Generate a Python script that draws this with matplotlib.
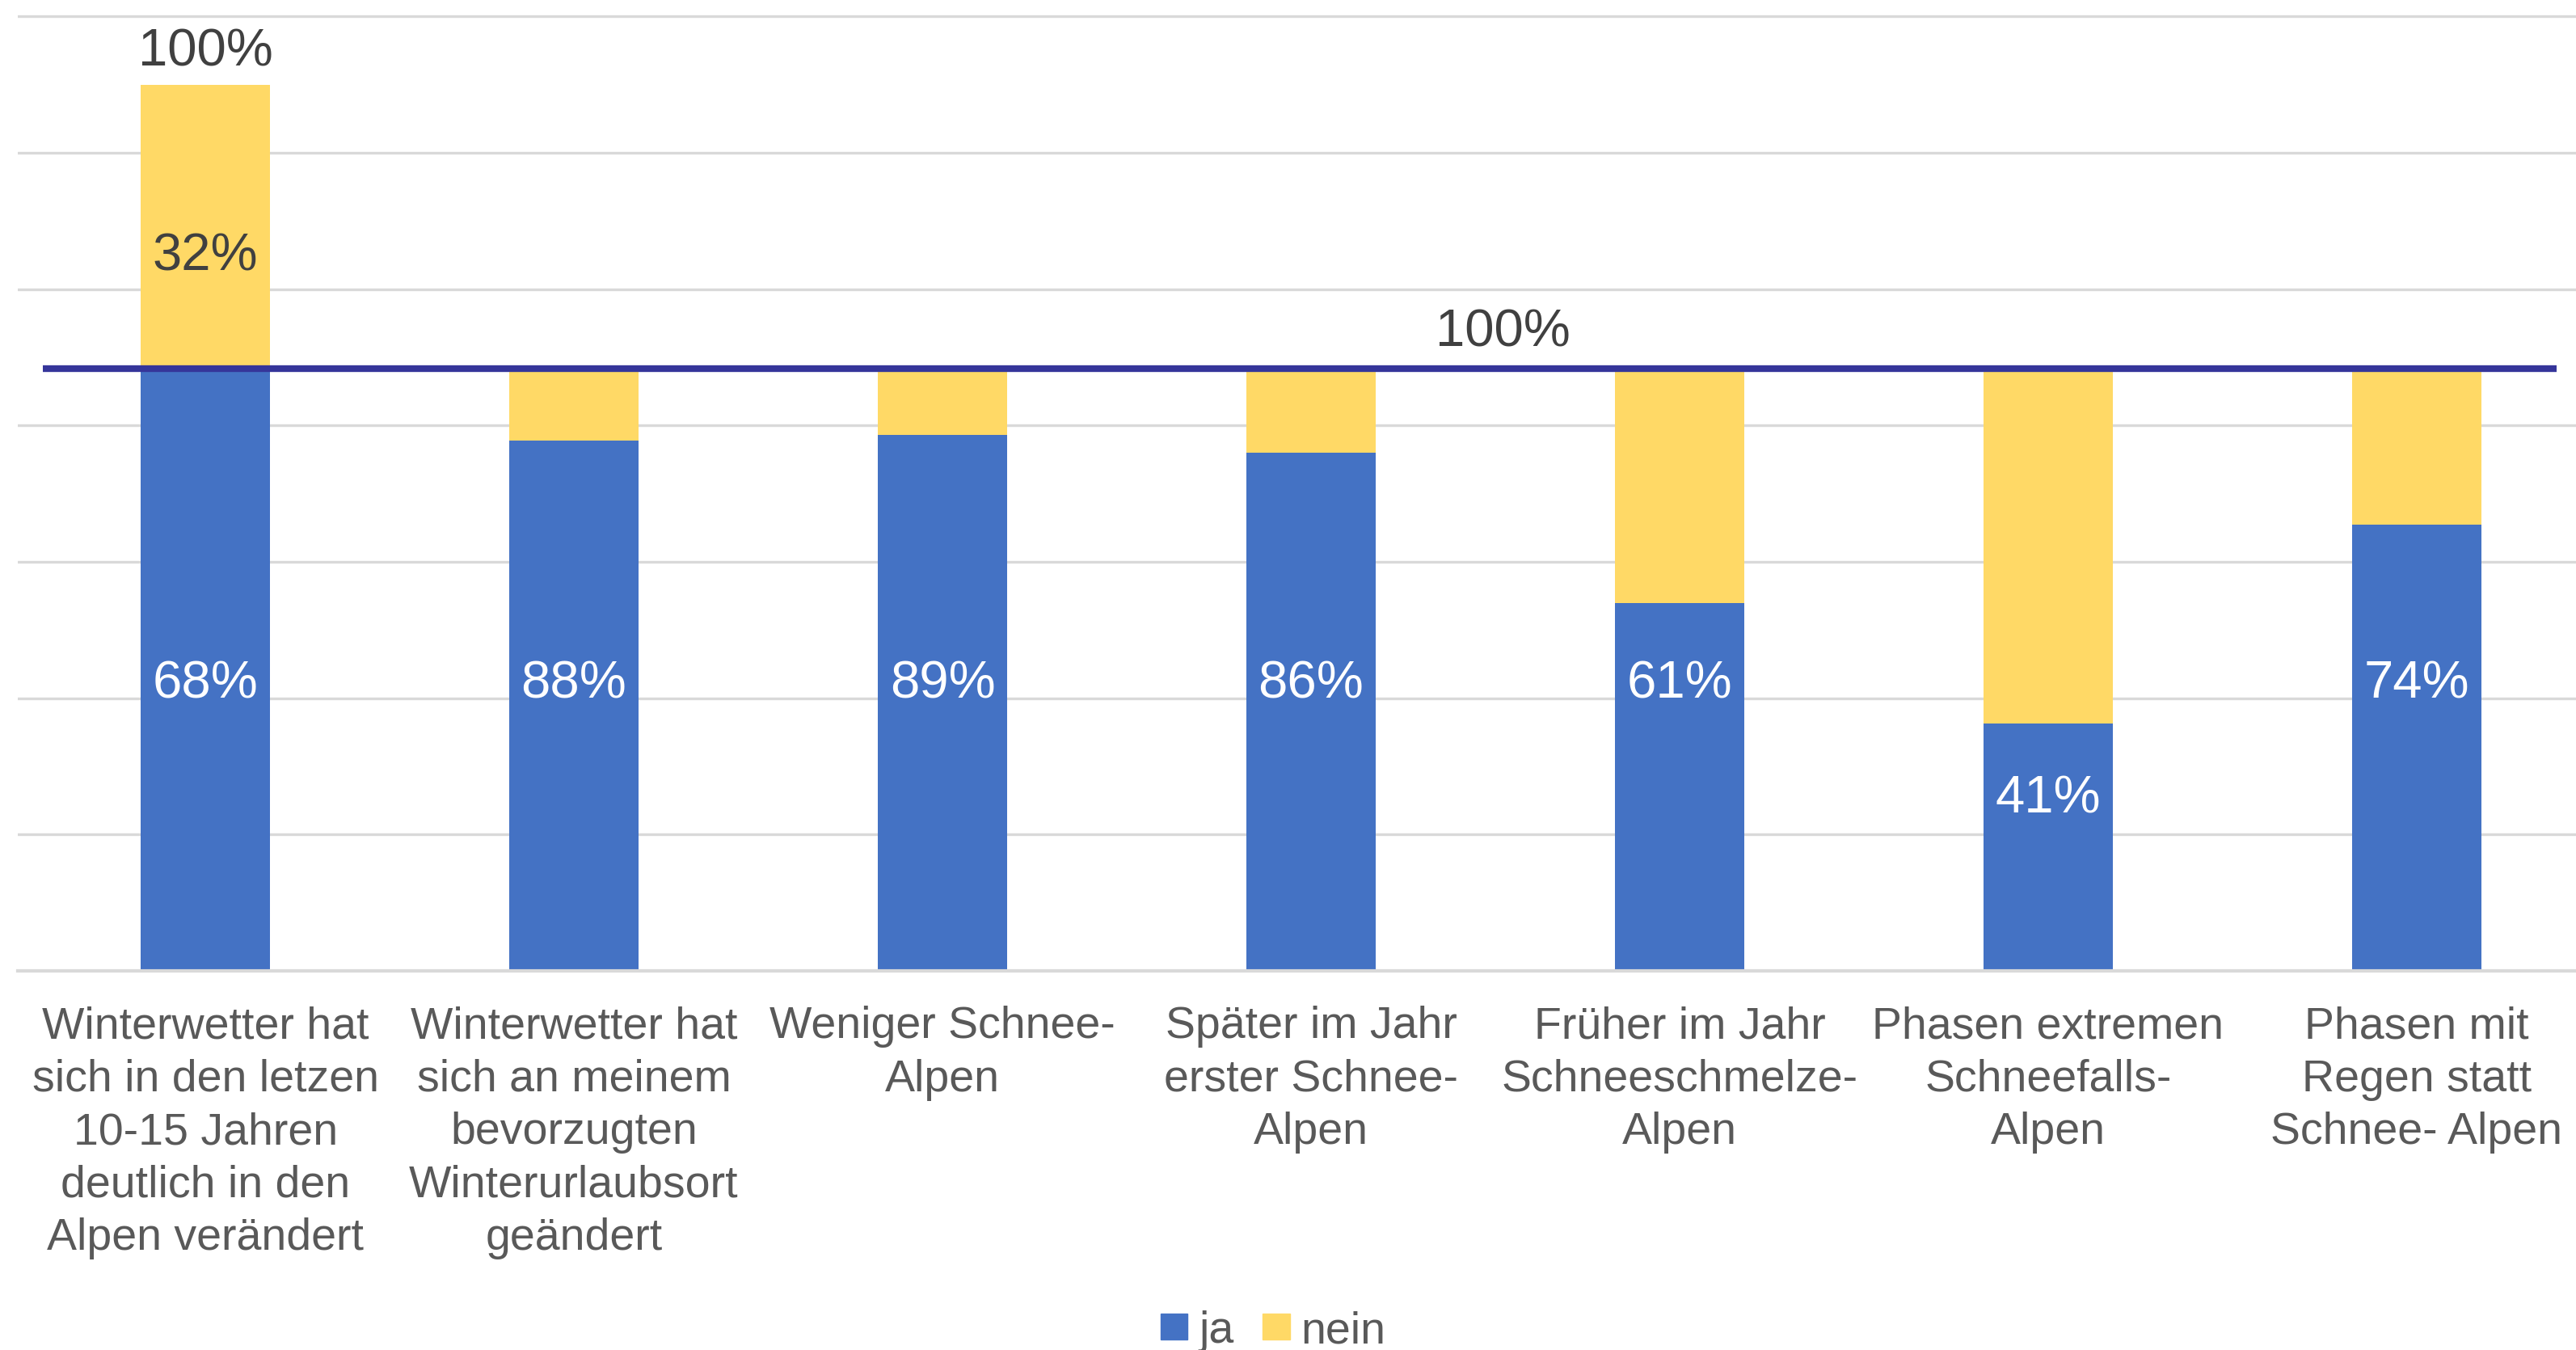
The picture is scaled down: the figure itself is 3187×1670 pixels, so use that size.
import numpy as np
import matplotlib.pyplot as plt
from matplotlib.patches import Patch

plt.rcParams['font.family'] = ['Liberation Sans', 'DejaVu Sans']

categories = [
    "Winterwetter hat\nsich in den letzen\n10-15 Jahren\ndeutlich in den\nAlpen verändert",
    "Winterwetter hat\nsich an meinem\nbevorzugten\nWinterurlaubsort\ngeändert",
    "Weniger Schnee-\nAlpen",
    "Später im Jahr\nerster Schnee-\nAlpen",
    "Früher im Jahr\nSchneeschmelze-\nAlpen",
    "Phasen extremen\nSchneefalls-\nAlpen",
    "Phasen mit\nRegen statt\nSchnee- Alpen",
]
ja_pct = [68, 88, 89, 86, 61, 41, 74]
nein_pct = [32, 12, 11, 14, 39, 59, 26]
n_total = 325  # respondents

# first bar = all respondents, the others only those who said "ja" in the first
base = np.array([n_total] + [n_total * ja_pct[0] / 100] * (len(ja_pct) - 1))
ja = base * np.array(ja_pct) / 100
nein = base * np.array(nein_pct) / 100

BLUE = '#4472C4'
YELLOW = '#FFD966'
NAVY = '#35359A'
GRID = '#D9D9D9'
DARK = '#404040'

fig = plt.figure(figsize=(31.87, 16.70), dpi=100)
ax = fig.add_axes([22 / 3187, 469 / 1670, 3200 / 3187, 1197.5 / 1670])

x = np.arange(len(categories))
ax.bar(x, ja, width=0.35, color=BLUE, zorder=2)
ax.bar(x, nein, bottom=ja, width=0.35, color=YELLOW, zorder=2)

# reference line: 100 % of the "ja" group
ax.hlines(base[1], -0.44, 6.38, color=NAVY, lw=6, zorder=3)
ax.text(3.52, base[1] + 13, "100%", ha='center', va='center',
        fontsize=47, color=DARK, zorder=4)

# data labels
label_y = [105, 105, 105, 105, 105, 63, 105]
for xi, p, ly in zip(x, ja_pct, label_y):
    ax.text(xi, ly, f"{p}%", ha='center', va='center', fontsize=47,
            color='white', zorder=4)
ax.text(0, 262, f"{nein_pct[0]}%", ha='center', va='center', fontsize=47,
        color=DARK, zorder=4)
ax.text(0, 337, f"{ja_pct[0] + nein_pct[0]}%", ha='center', va='center',
        fontsize=47, color=DARK, zorder=4)

ax.set_xlim(-0.509, 6.509)
ax.set_ylim(0, 355)
ax.set_yticks(np.arange(0, 351, 50))
ax.set_yticklabels([])
ax.yaxis.grid(True, color=GRID, lw=2.4, zorder=0)
ax.set_axisbelow(True)
ax.tick_params(axis='y', length=0)
ax.tick_params(axis='x', length=0, pad=31)
ax.set_xticks(x)
ax.set_xticklabels(categories, fontsize=40, color='#595959', linespacing=1.34)
for s in ['top', 'right', 'left']:
    ax.spines[s].set_visible(False)
ax.spines['bottom'].set_color(GRID)
ax.spines['bottom'].set_linewidth(3)

handles = [Patch(color=BLUE, label='ja'), Patch(color=YELLOW, label='nein')]
fig.legend(handles=handles, loc='center', bbox_to_anchor=(1575 / 3187, 23 / 1670),
           ncol=2, frameon=False, fontsize=40, labelcolor='#595959',
           handlelength=0.6, handleheight=0.5, handletextpad=0.25,
           columnspacing=0.65)

fig.savefig('out.png', dpi=100)
